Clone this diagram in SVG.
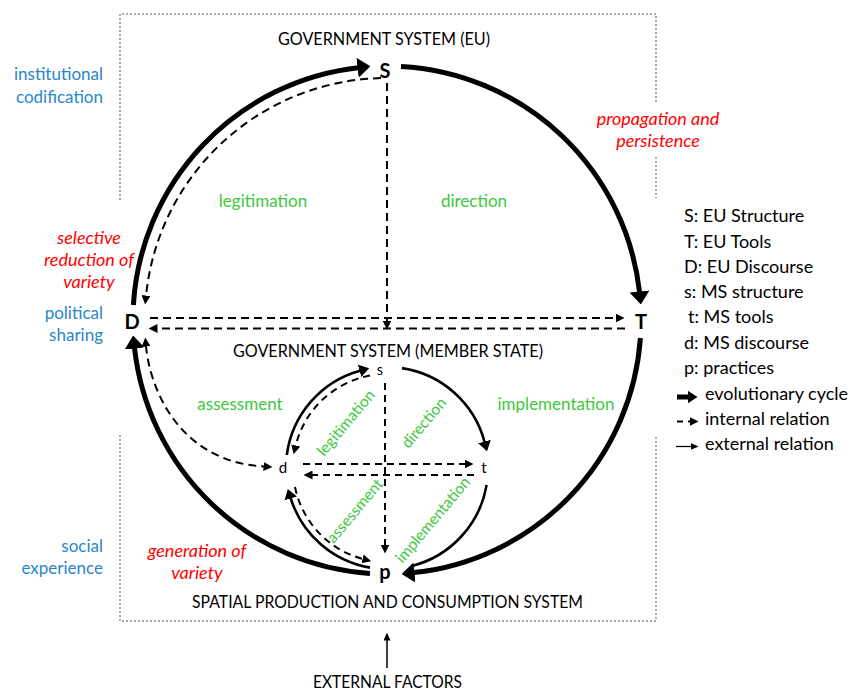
<svg xmlns="http://www.w3.org/2000/svg" width="855" height="691" viewBox="0 0 855 691">
<defs>
<style>
.t{font-family:Lato,"Liberation Sans",sans-serif;font-size:17px;fill:#000}
.g{fill:#3dc83d}
.b{fill:#2a86c8}
.r{fill:#ff0000;font-style:italic;font-size:18px}
.n{font-weight:bold;font-size:20px}
.sm{font-size:15px}
.rot{font-size:15.5px}
.lg{font-size:18px}
.box{fill:none;stroke:#555;stroke-width:1;stroke-dasharray:2 2}
.thick{fill:none;stroke:#000;stroke-width:5}
.thin{fill:none;stroke:#000;stroke-width:2.6}
.dash{fill:none;stroke:#000;stroke-width:2;stroke-dasharray:8 5}
.dashs{fill:none;stroke:#000;stroke-width:2;stroke-dasharray:7 5}
.ext{fill:none;stroke:#000;stroke-width:1.5}
</style>
<marker id="big" markerUnits="userSpaceOnUse" viewBox="0 0 13 20" markerWidth="13" markerHeight="20" refX="0.5" refY="10" orient="auto"><path d="M0,0 L13,10 L0,20 z" fill="#000"/></marker>
<marker id="sh" markerUnits="userSpaceOnUse" viewBox="0 0 10 13" markerWidth="10" markerHeight="13" refX="0.5" refY="6.5" orient="auto"><path d="M0,0 L10,6.5 L0,13 z" fill="#000"/></marker>
<marker id="dh" markerUnits="userSpaceOnUse" viewBox="0 0 9 9" markerWidth="9" markerHeight="9" refX="0.5" refY="4.5" orient="auto-start-reverse"><path d="M0,0 L9,4.5 L0,9 z" fill="#000"/></marker>
<marker id="lb" markerUnits="userSpaceOnUse" viewBox="0 0 10 13" markerWidth="10" markerHeight="13" refX="0.5" refY="6.5" orient="auto"><path d="M0,0 L10,6.5 L0,13 z" fill="#000"/></marker>
<marker id="eh" markerUnits="userSpaceOnUse" viewBox="0 0 8 7" markerWidth="8" markerHeight="7" refX="0.5" refY="3.5" orient="auto"><path d="M0,0 L8,3.5 L0,7 z" fill="#000"/></marker>
</defs>
<rect width="855" height="691" fill="#fff"/>

<g id="frames">
<path class="box" d="M120,200 V14 H656 V103 M656,157 V198"/>
<path class="box" d="M120,435 V621 H656 V435"/>
</g>

<g id="connectors">
<path class="thick" d="M401,66.4 A254,254 0 0 1 639.5,292" marker-end="url(#big)"/>
<path class="thick" d="M640.4,338 A254,254 0 0 1 414,572.6" marker-end="url(#big)"/>
<path class="thick" d="M370,573.4 A254,254 0 0 1 134.5,348" marker-end="url(#big)"/>
<path class="thick" d="M133.4,305 A254,254 0 0 1 358,67.7" marker-end="url(#big)"/>
<path class="dash" d="M381,78.1 A242,242 0 0 0 146,296" marker-end="url(#dh)"/>
<path class="dash" d="M146,346 C150,390 180,462 264,466.5" marker-start="url(#dh)" marker-end="url(#dh)"/>
<path class="dash" d="M150,318 H616" marker-end="url(#dh)"/>
<path class="dash" d="M625,328.5 H157" marker-end="url(#dh)"/>
<path class="dash" d="M387,83 V321" marker-end="url(#dh)"/>
<path class="thin" d="M286.8,455 A101,101 0 0 1 360,370.7" marker-end="url(#sh)"/>
<path class="thin" d="M402,368.1 A101,101 0 0 1 484.6,442" marker-end="url(#sh)"/>
<path class="thin" d="M486.6,485 A101,101 0 0 1 412,565.9"/>
<path class="thin" d="M370,567.6 A101,101 0 0 1 290.6,498" marker-end="url(#sh)"/>
<path class="dashs" d="M370,375.6 A94,94 0 0 0 295.6,446" marker-end="url(#dh)"/>
<path class="dashs" d="M295,487 A94,94 0 0 0 363,559" marker-end="url(#dh)"/>
<path class="dashs" d="M303,464 H465" marker-end="url(#dh)"/>
<path class="dashs" d="M474,475 H312" marker-end="url(#dh)"/>
<path class="dashs" d="M385,383 V545" marker-end="url(#dh)"/>
<path class="ext" d="M387,668 V640" marker-end="url(#eh)"/>
</g>

<g id="node-S"><text class="t n" x="385" y="78" text-anchor="middle">S</text></g>
<g id="node-T"><text class="t n" x="641" y="329" text-anchor="middle">T</text></g>
<g id="node-D"><text class="t n" x="132" y="329" text-anchor="middle">D</text></g>
<g id="node-p"><text class="t n" x="385" y="579" text-anchor="middle">p</text></g>
<g id="node-s"><text class="t" x="380" y="374.5" text-anchor="middle" style="font-size:14.5px">s</text></g>
<g id="node-t"><text class="t sm" x="484" y="473" text-anchor="middle">t</text></g>
<g id="node-d"><text class="t sm" x="283" y="473" text-anchor="middle">d</text></g>

<g id="titles">
<text class="t" x="278" y="45" textLength="212" lengthAdjust="spacingAndGlyphs">GOVERNMENT SYSTEM (EU)</text>
<text class="t" x="233" y="356.5" textLength="310" lengthAdjust="spacingAndGlyphs">GOVERNMENT SYSTEM (MEMBER STATE)</text>
<text class="t" x="192" y="608" textLength="391" lengthAdjust="spacingAndGlyphs">SPATIAL PRODUCTION AND CONSUMPTION SYSTEM</text>
<text class="t" x="313" y="688" textLength="149" lengthAdjust="spacingAndGlyphs">EXTERNAL FACTORS</text>
</g>

<g id="relation-labels">
<text class="t g" x="263" y="207" text-anchor="middle">legitimation</text>
<text class="t g" x="474" y="207" text-anchor="middle">direction</text>
<text class="t g" x="240" y="410" text-anchor="middle">assessment</text>
<text class="t g" x="556" y="410" text-anchor="middle">implementation</text>
<text class="t g rot" transform="translate(346,423) rotate(-50)" y="5" text-anchor="middle">legitimation</text>
<text class="t g rot" transform="translate(424,423) rotate(-50)" y="5" text-anchor="middle">direction</text>
<text class="t g rot" transform="translate(355,511) rotate(-50)" y="5" text-anchor="middle">assessment</text>
<text class="t g rot" transform="translate(433,520) rotate(-50)" y="5" text-anchor="middle">implementation</text>
</g>

<g id="side-labels">
<text class="t b" x="103" y="80" text-anchor="end">institutional</text>
<text class="t b" x="103" y="103" text-anchor="end">codification</text>
<text class="t b" x="103" y="319" text-anchor="end">political</text>
<text class="t b" x="103" y="341" text-anchor="end">sharing</text>
<text class="t b" x="103" y="552" text-anchor="end">social</text>
<text class="t b" x="103" y="574" text-anchor="end">experience</text>
<text class="t r" x="658" y="125" text-anchor="middle">propagation and</text>
<text class="t r" x="658" y="147" text-anchor="middle">persistence</text>
<text class="t r" x="89" y="244" text-anchor="middle">selective</text>
<text class="t r" x="89" y="266" text-anchor="middle">reduction of</text>
<text class="t r" x="89" y="288" text-anchor="middle">variety</text>
<text class="t r" x="197" y="557" text-anchor="middle">generation of</text>
<text class="t r" x="197" y="579" text-anchor="middle">variety</text>
</g>

<g id="legend">
<text class="t lg" x="684" y="222">S: EU Structure</text>
<text class="t lg" x="684" y="248">T: EU Tools</text>
<text class="t lg" x="684" y="273">D: EU Discourse</text>
<text class="t lg" x="684" y="298">s: MS structure</text>
<text class="t lg" x="688" y="323">t: MS tools</text>
<text class="t lg" x="684" y="349">d: MS discourse</text>
<text class="t lg" x="684" y="374">p: practices</text>
<path d="M677,397 H688" stroke="#000" stroke-width="5" fill="none" marker-end="url(#lb)"/>
<text class="t lg" x="705" y="400">evolutionary cycle</text>
<path d="M677,421.5 H683 M688,421.5 H690" stroke="#000" stroke-width="2" fill="none" marker-end="url(#dh)"/>
<text class="t lg" x="705" y="425">internal relation</text>
<path d="M676,446.5 H691" stroke="#000" stroke-width="1.3" fill="none" marker-end="url(#eh)"/>
<text class="t lg" x="705" y="450">external relation</text>
</g>
</svg>
